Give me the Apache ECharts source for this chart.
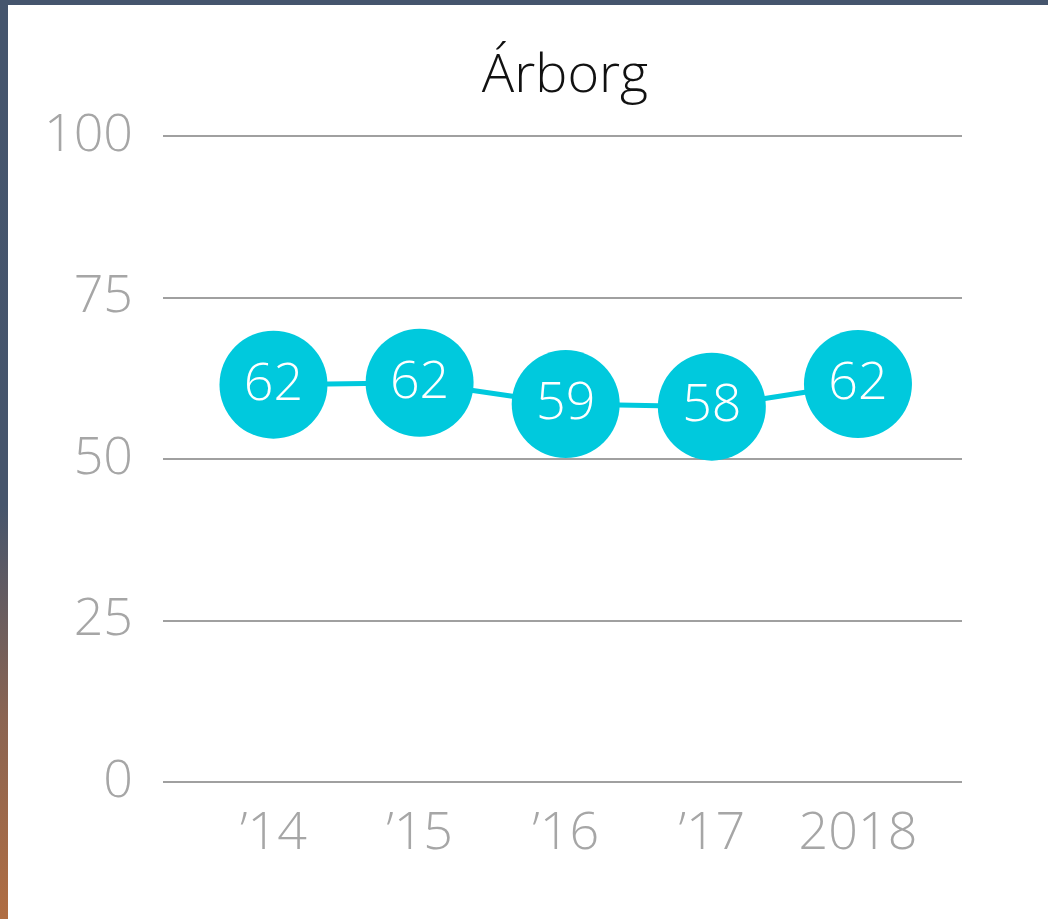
<!DOCTYPE html>
<html>
<head>
<meta charset="utf-8">
<script src="https://cdn.jsdelivr.net/npm/echarts@6/dist/echarts.min.js"></script>
<style>
    html, body { margin: 0; padding: 0; width: 1048px; height: 919px; overflow: hidden; }
    body { background: linear-gradient(to bottom, #45556d 0%, #46556c 55%, #8a6452 78%, #b06d42 100%); }
    #chart { position: absolute; left: 8px; top: 5px; width: 1040px; height: 914px; background: #fff; }
</style>
</head>
<body>
<div id="chart"></div>
<script>
    // 数据
    var chart_title = "Árborg";
    var year_labels = ["\u201914", "\u201915", "\u201916", "\u201917", "2018"];
    var score_values = [61.5, 61.8, 58.5, 58.1, 61.6];
    var y_ticks = [0, 25, 50, 75, 100];

    var my_chart = echarts.init(document.getElementById("chart"));

    var font_family = "'Open Sans', 'Liberation Sans', sans-serif";

    var option = {
        animation: false,
        title: {
            text: chart_title,
            left: 552,
            top: 40,
            textAlign: "center",
            textStyle: {
                fontFamily: font_family,
                fontWeight: 300,
                fontSize: 54,
                color: "#111"
            }
        },
        grid: {
            left: 155,
            right: 86,
            top: 131,
            bottom: 137,
            containLabel: false
        },
        xAxis: {
            type: "value",
            min: -0.756,
            max: 4.712,
            splitLine: { show: false },
            axisLine: { show: false },
            axisTick: { show: false },
            axisLabel: {
                customValues: [0, 1, 2, 3, 4],
                formatter: function (v) {
                    return year_labels[Math.round(v)];
                },
                margin: 26,
                fontFamily: font_family,
                fontWeight: 300,
                fontSize: 52,
                color: "#a6a6a6"
            }
        },
        yAxis: {
            type: "value",
            min: y_ticks[0],
            max: y_ticks[y_ticks.length - 1],
            interval: 25,
            axisLine: { show: false },
            axisTick: { show: false },
            splitLine: {
                lineStyle: { color: "#a0a0a0", width: 2 }
            },
            axisLabel: {
                margin: 30,
                lineHeight: 56,
                padding: [4, 0, 0, 0],
                fontFamily: font_family,
                fontWeight: 300,
                fontSize: 52,
                color: "#a6a6a6"
            }
        },
        series: [
            {
                type: "line",
                data: score_values.map(function (v, i) { return [i, v]; }),
                symbol: "circle",
                symbolSize: 108,
                itemStyle: { color: "#00c9dd" },
                lineStyle: { color: "#00c9dd", width: 5 },
                label: {
                    show: true,
                    position: "inside",
                    formatter: function (p) { return Math.round(p.value[1]); },
                    fontFamily: font_family,
                    fontWeight: 300,
                    fontSize: 52,
                    color: "#fff"
                }
            }
        ]
    };

    my_chart.setOption(option);

    window.addEventListener("resize", function () {
        my_chart.resize();
    });
</script>
</body>
</html>
